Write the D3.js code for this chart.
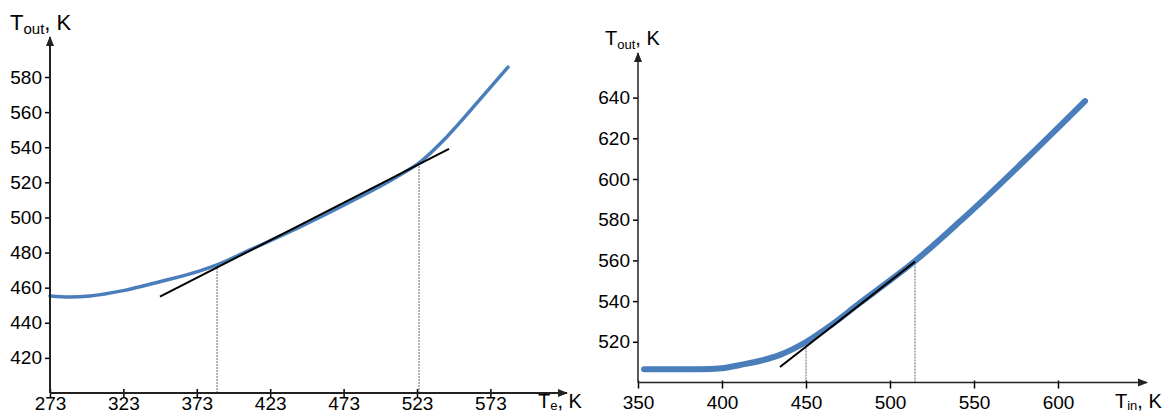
<!DOCTYPE html>
<html lang="en">
  <head>
    <meta charset="UTF-8" />
    <title>Tout vs Te and Tin</title>
    <style>
      body { margin: 0; background: #fff; }
      text { font-family: "Liberation Sans", Arial, sans-serif; fill: #000; }
      .axis path, .axis line { stroke: #000; }
    </style>
  </head>
  <body>
    <script src="https://cdn.jsdelivr.net/npm/d3@7"></script>
    <script>
      // left panel: Tout against Te
      var leftTe   = [273, 286.6, 300.2, 322.9, 347.9, 375.2, 386.8, 409.2, 443.3, 477.4, 511.4, 524.4, 543.4, 565.9, 585];
      var leftTout = [455.3, 454.7, 455.3, 458.3, 463.4, 469.6, 473, 481.5, 494.6, 508.8, 524.2, 531.1, 546, 567.2, 585.6];
      var leftTangentX = [347.9, 544.8];
      var leftTangentY = [454.9, 539.0];
      var leftDropX = [386.8, 524.4];
      var leftDropY = [473, 531.1];
      var leftXTicks = [273, 323, 373, 423, 473, 523, 573];
      var leftYTicks = [420, 440, 460, 480, 500, 520, 540, 560, 580];

      // right panel: Tout against Tin
      var rightTin  = [353.6, 386.9, 400, 410.7, 424.4, 434.5, 450, 464.3, 482.1, 498.8, 514.9, 541.7, 616.1];
      var rightTout = [506.5, 506.5, 507.0, 508.6, 511.0, 513.6, 519.9, 527.8, 539.1, 549.4, 559.7, 579.2, 638.3];
      var rightTangentX = [434.5, 514.9];
      var rightTangentY = [507.6, 559.4];
      var rightDropX = [450, 514.9];
      var rightDropY = [517.6, 559.6];
      var rightXTicks = [350, 400, 450, 500, 550, 600];
      var rightYTicks = [520, 540, 560, 580, 600, 620, 640];

      var w = 1164, h = 414;
      var blue = "#4a7ebb";

      var svg = d3.select("body").append("svg")
                  .attr("width", w)
                  .attr("height", h);

      svg.append("defs").append("marker")
         .attr("id", "arrow")
         .attr("viewBox", "0 0 10 10")
         .attr("refX", 9).attr("refY", 5)
         .attr("markerWidth", 10).attr("markerHeight", 10)
         .attr("markerUnits", "userSpaceOnUse")
         .attr("orient", "auto")
         .append("path")
         .attr("d", "M0,1 L10,5 L0,9 Z")
         .attr("fill", "#222");

      function panel(p) {
        var x = d3.scaleLinear().domain(p.xDomain).range(p.xRange);
        var y = d3.scaleLinear().domain(p.yDomain).range(p.yRange);
        var g = svg.append("g");
        var x0 = p.xRange[0], y0 = p.yRange[0];

        // dotted drop lines
        p.dropX.forEach(function(d, i) {
          g.append("line")
           .attr("x1", x(d)).attr("x2", x(d))
           .attr("y1", y0).attr("y2", y(p.dropY[i]))
           .style("stroke", "#666")
           .style("stroke-width", 1)
           .style("stroke-dasharray", "2,1");
        });

        var pts = p.xs.map(function(d, i) { return [d, p.ys[i]]; });
        var line = d3.line()
                     .x(function(d) { return x(d[0]); })
                     .y(function(d) { return y(d[1]); })
                     .curve(d3.curveMonotoneX);

        g.append("path")
         .datum(pts)
         .attr("d", line)
         .attr("fill", "none")
         .attr("stroke", blue)
         .attr("stroke-width", p.lineW)
         .attr("stroke-linecap", "round");

        g.append("line")
         .attr("x1", x(p.tanX[0])).attr("y1", y(p.tanY[0]))
         .attr("x2", x(p.tanX[1])).attr("y2", y(p.tanY[1]))
         .style("stroke", "#000")
         .style("stroke-width", 2);

        // axes
        var xAxis = d3.axisBottom(x).tickValues(p.xTicks).tickSize(p.xTickDown).tickPadding(p.xPad).tickFormat(d3.format("d"));
        var gx = g.append("g").attr("class", "axis")
                  .attr("transform", "translate(0," + y0 + ")")
                  .call(xAxis);
        gx.select(".domain").remove();
        gx.selectAll(".tick line").attr("y1", -p.xTickUp).style("stroke-width", 1.5);
        gx.selectAll(".tick text").style("font-size", "19px");

        var yAxis = d3.axisLeft(y).tickValues(p.yTicks).tickSize(5).tickPadding(3).tickFormat(d3.format("d"));
        var gy = g.append("g").attr("class", "axis")
                  .attr("transform", "translate(" + x0 + ",0)")
                  .call(yAxis);
        gy.select(".domain").remove();
        gy.selectAll(".tick line").style("stroke-width", 1.5);
        gy.selectAll(".tick text").style("font-size", "19px");

        g.append("line")
         .attr("x1", x0).attr("y1", y0)
         .attr("x2", p.xArrow).attr("y2", y0)
         .style("stroke", "#222").style("stroke-width", p.axisW)
         .attr("marker-end", "url(#arrow)");
        g.append("line")
         .attr("x1", x0).attr("y1", y0)
         .attr("x2", x0).attr("y2", p.yArrow)
         .style("stroke", "#222").style("stroke-width", p.axisW)
         .attr("marker-end", "url(#arrow)");

        // titles with subscripts
        var ty = g.append("text").attr("x", p.yTitle[0]).attr("y", p.yTitle[1]).style("font-size", p.titleSize + "px");
        ty.append("tspan").text("T");
        ty.append("tspan").attr("dy", 4).style("font-size", (p.titleSize - 7) + "px").text("out");
        ty.append("tspan").attr("dy", -4).text(", K");

        var tx = g.append("text").attr("x", p.xTitle[0]).attr("y", p.xTitle[1]).style("font-size", "20px");
        tx.append("tspan").text("T");
        tx.append("tspan").attr("dy", 2).style("font-size", "13px").text(p.sub);
        tx.append("tspan").attr("dy", -2).text(", K");
      }

      panel({
        xs: leftTe, ys: leftTout,
        tanX: leftTangentX, tanY: leftTangentY,
        dropX: leftDropX, dropY: leftDropY,
        xTicks: leftXTicks, yTicks: leftYTicks,
        xDomain: [273, 573], xRange: [50, 490.4],
        yDomain: [400, 580], yRange: [393, 77],
        xArrow: 567, yArrow: 37,
        xTickDown: 4, xTickUp: 4, xPad: 0,
        lineW: 3.5, axisW: 2, titleSize: 22,
        yTitle: [10, 30], xTitle: [538, 408], sub: "e"
      });

      panel({
        xs: rightTin, ys: rightTout,
        tanX: rightTangentX, tanY: rightTangentY,
        dropX: rightDropX, dropY: rightDropY,
        xTicks: rightXTicks, yTicks: rightYTicks,
        xDomain: [350, 600], xRange: [638, 1058],
        yDomain: [500, 640], yRange: [382.5, 97.6],
        xArrow: 1147, yArrow: 53,
        xTickDown: 6, xTickUp: 2, xPad: 7,
        lineW: 6, axisW: 1.5, titleSize: 20,
        yTitle: [605, 45], xTitle: [1115, 408], sub: "in"
      });
    </script>
  </body>
</html>
